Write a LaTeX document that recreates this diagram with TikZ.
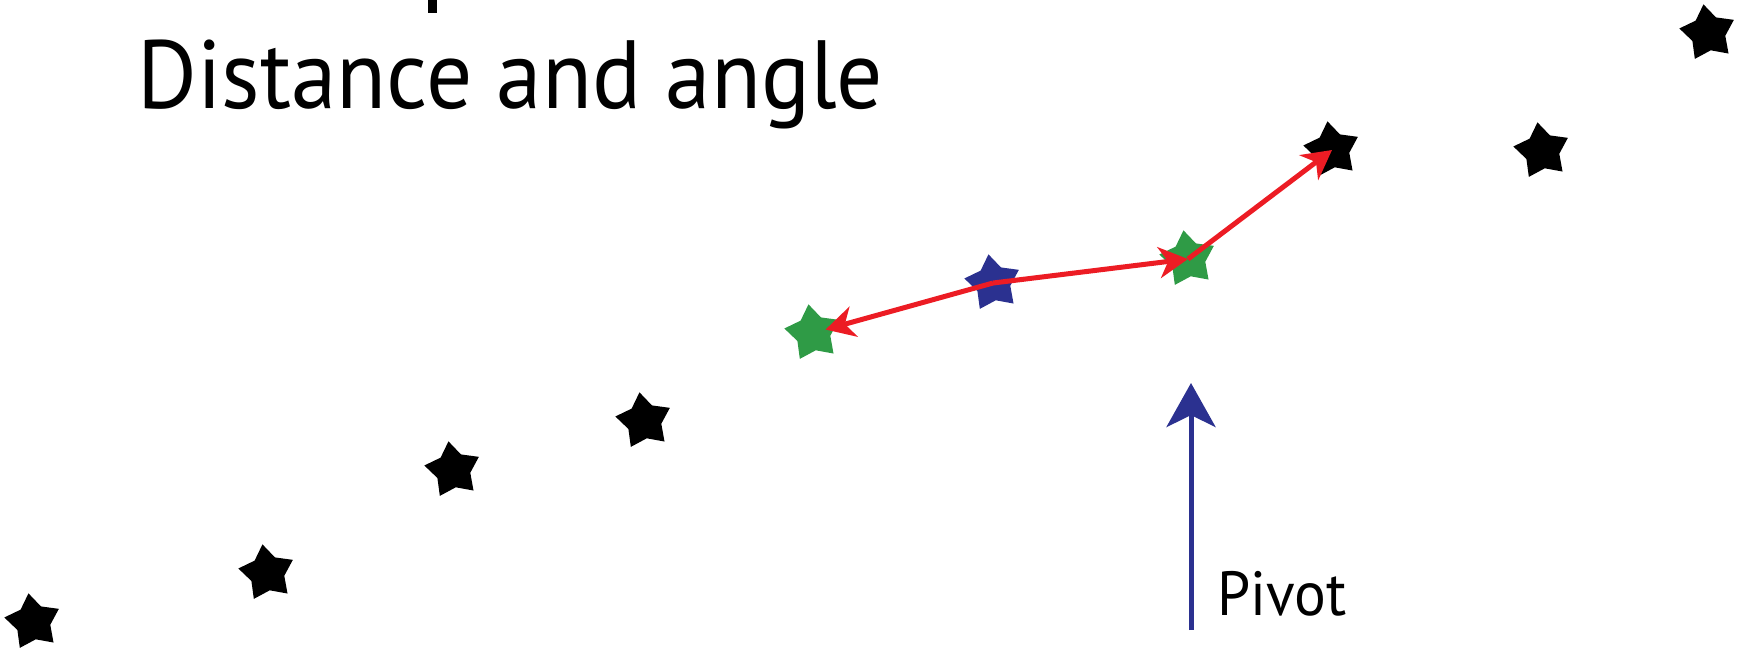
\documentclass[tikz,border=0pt]{standalone}
\usepackage{fontspec}
\setmainfont{PT Sans}
\usetikzlibrary{arrows.meta,calc}
\definecolor{sgreen}{RGB}{47,155,70}
\definecolor{sblue}{RGB}{43,49,144}
\definecolor{sred}{RGB}{236,28,36}
\begin{document}
\begin{tikzpicture}[x=0.01cm,y=-0.01cm,
  pics/mystar/.style={code={
    \fill[#1] (99:2.9mm) -- (135:1.75mm) -- (171:2.9mm) -- (207:1.75mm)
      -- (243:2.9mm) -- (279:1.75mm) -- (315:2.9mm) -- (351:1.75mm)
      -- (27:2.9mm) -- (63:1.75mm) -- cycle;}},
  redarrow/.style={draw=sred,line width=0.5mm,
    -{Stealth[length=2.9mm,width=3.1mm,inset=0.9mm]}},
  bluearrow/.style={draw=sblue,line width=0.5mm,
    -{Stealth[length=4.4mm,width=4.9mm,inset=1.2mm]}},
  label/.style={anchor=base west,inner sep=0pt,text=black}]
\useasboundingbox (0,0) rectangle (1748,647);
% cut-off descender of the line above
\fill[black] (428,0) rectangle (437,13);
% title
\node[label] (title) at (137,108) {\scalebox{1}[1.06]{\resizebox{74.5mm}{!}{Distance and angle}}};
% star positions
\coordinate (s1) at (33,622);
\coordinate (s2) at (267,573);
\coordinate (s3) at (453,470);
\coordinate (s4) at (644,421);
\coordinate (gl) at (813,333);
\coordinate (bl) at (993,283);
\coordinate (gr) at (1188,259);
\coordinate (k8) at (1332,150);
\coordinate (k9) at (1542,151);
\coordinate (k10) at (1708,33);
% stars
\foreach \s in {s1,s2,s3,s4,k8,k9,k10} {\pic at (\s) {mystar=black};}
\pic at (gl) {mystar=sgreen};
\pic at (bl) {mystar=sblue};
\pic at (gr) {mystar=sgreen};
% red arrows
\draw[redarrow,shorten >=1.3mm] (bl) -- (gl);
\draw[redarrow] (bl) -- (gr);
\draw[redarrow] (gr) -- (k8);
% pivot arrow
\coordinate (pivbase) at (1191,630);
\coordinate (pivtip) at (1191,383);
\draw[bluearrow] (pivbase) -- (pivtip);
\node[label] (pivot) at (1217,615) {\scalebox{1}[1.05]{\resizebox{12.9mm}{!}{Pivot}}};
\end{tikzpicture}
\end{document}
